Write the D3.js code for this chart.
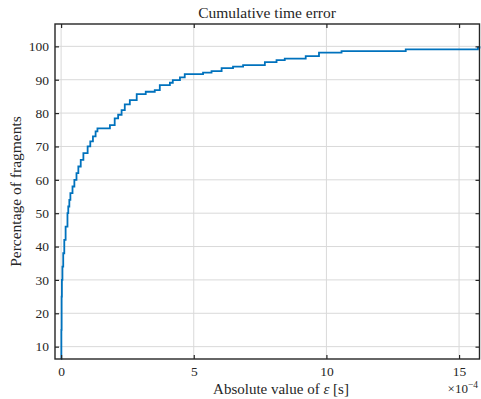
<!DOCTYPE html>
<html>
<head>
<meta charset="utf-8">
<script src="https://cdn.jsdelivr.net/npm/d3@7"></script>
<style>
  body { margin: 0; background: #fff; }
</style>
</head>
<body>
<div id="chart"></div>
<script>
// absolute error in units of 1e-4 s, and cumulative percentage of fragments
const errX = [0.0, 0.01, 0.02, 0.03, 0.05, 0.08, 0.12, 0.17, 0.24, 0.27, 0.31, 0.35, 0.43, 0.5, 0.58, 0.65, 0.74, 0.84, 1.0, 1.1, 1.2, 1.3, 1.37,
  1.84, 2.02, 2.15, 2.28, 2.4, 2.59, 2.85, 3.19, 3.53, 3.72, 4.1, 4.21, 4.48, 4.66, 5.35, 5.67, 6.05, 6.48, 6.86,
  7.68, 8.12, 8.43, 9.22, 9.72, 10.57, 12.99, 15.71, 15.77];
const pct = [6.3, 15, 25, 30, 34, 38, 42, 46, 50, 52, 54, 56, 58, 60, 62, 64, 66, 68, 70, 71.5, 73, 74.5, 75.4,
  76.4, 78.4, 79.5, 80.9, 82.6, 83.9, 85.7, 86.4, 86.9, 88.4, 89.1, 89.9, 90.7, 91.7, 92.1, 92.6, 93.5, 93.9, 94.4,
  95.3, 95.9, 96.3, 97.1, 98.1, 98.6, 99.1, 99.6, 100];
const xTicks = [0, 5, 10, 15];
const yTicks = [10, 20, 30, 40, 50, 60, 70, 80, 90, 100];

const w = 481, h = 399;
const padL = 55, padR = 479.5, padT = 24, padB = 359;
const serif = "'Liberation Serif', 'Times New Roman', 'DejaVu Serif', serif";

const svg = d3.select("#chart").append("svg").attr("width", w).attr("height", h);

const xScale = d3.scaleLinear().domain([-0.23, 15.77]).range([padL, padR]);
const yScale = d3.scaleLinear().domain([6.3, 106.7]).range([padB, padT]);

// grid
svg.append("g").selectAll("line").data(xTicks).enter().append("line")
  .attr("x1", d => xScale(d)).attr("x2", d => xScale(d))
  .attr("y1", padT).attr("y2", padB)
  .attr("stroke", "#d9d9d9").attr("stroke-width", 1);
svg.append("g").selectAll("line").data(yTicks).enter().append("line")
  .attr("y1", d => yScale(d)).attr("y2", d => yScale(d))
  .attr("x1", padL).attr("x2", padR)
  .attr("stroke", "#d9d9d9").attr("stroke-width", 1);

// the cumulative curve
const data = errX.map((x, i) => ({ x: x, y: pct[i] }));
const line = d3.line().x(d => xScale(d.x)).y(d => yScale(d.y)).curve(d3.curveStepAfter);
svg.append("path").datum(data)
  .attr("d", line)
  .attr("fill", "none")
  .attr("stroke", "#0072BD")
  .attr("stroke-width", 1.8);

// axes with inward ticks on all sides
const tk = 4;
const xb = d3.axisBottom(xScale).tickValues(xTicks).tickSizeInner(-tk).tickSizeOuter(0).tickPadding(7);
const xt = d3.axisTop(xScale).tickValues(xTicks).tickSizeInner(-tk).tickSizeOuter(0).tickFormat("");
const yl = d3.axisLeft(yScale).tickValues(yTicks).tickSizeInner(-tk).tickSizeOuter(0).tickPadding(6);
const yr = d3.axisRight(yScale).tickValues(yTicks).tickSizeInner(-tk).tickSizeOuter(0).tickFormat("");

svg.append("g").attr("transform", `translate(0,${padB})`).call(xb);
svg.append("g").attr("transform", `translate(0,${padT})`).call(xt);
svg.append("g").attr("transform", `translate(${padL},0)`).call(yl);
svg.append("g").attr("transform", `translate(${padR},0)`).call(yr);

svg.selectAll(".domain").remove();
svg.selectAll(".tick line").attr("stroke", "#262626").attr("stroke-width", 1.2);
svg.selectAll(".tick text").attr("font-size", 13.5);

// box
svg.append("rect")
  .attr("x", padL).attr("y", padT)
  .attr("width", padR - padL).attr("height", padB - padT)
  .attr("fill", "none").attr("stroke", "#262626").attr("stroke-width", 1.4);

// title and labels
svg.append("text").attr("x", 267).attr("y", 18)
  .attr("text-anchor", "middle").attr("font-size", 15.5)
  .text("Cumulative time error");

const xl = svg.append("text").attr("x", 281).attr("y", 394)
  .attr("text-anchor", "middle").attr("font-size", 15);
xl.append("tspan").text("Absolute value of ");
xl.append("tspan").attr("font-style", "italic").text("ε");
xl.append("tspan").text(" [s]");

svg.append("text")
  .attr("transform", `translate(21,${(padT + padB) / 2}) rotate(-90)`)
  .attr("text-anchor", "middle").attr("font-size", 15.5)
  .text("Percentage of fragments");

const ex = svg.append("text").attr("x", 478).attr("y", 393)
  .attr("text-anchor", "end").attr("font-size", 13);
ex.append("tspan").text("×10");
ex.append("tspan").attr("dy", -5).attr("font-size", 9.5).text("−4");

svg.selectAll("text").attr("font-family", serif).attr("fill", "#262626");
</script>
</body>
</html>
